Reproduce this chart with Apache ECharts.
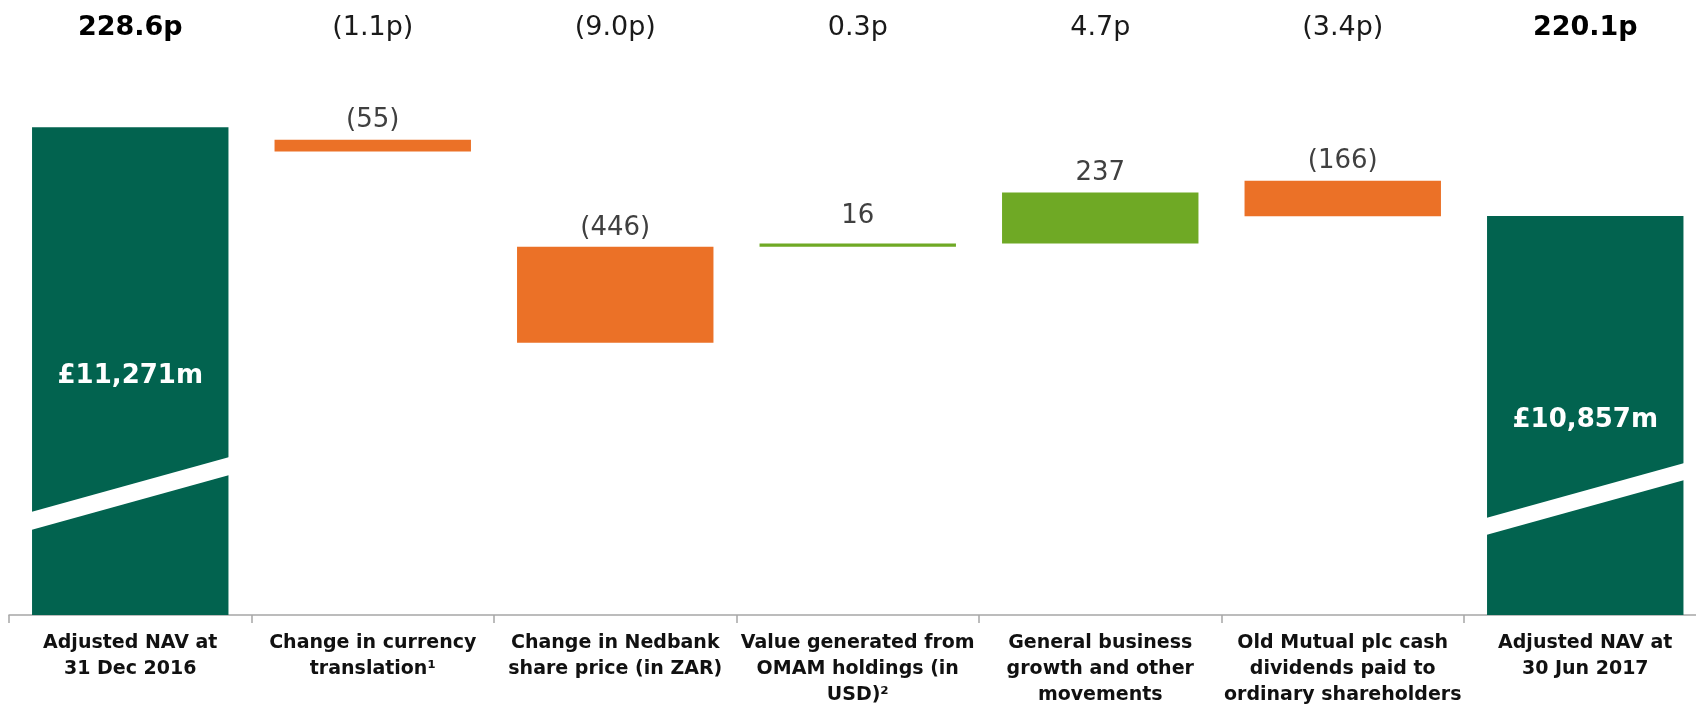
<!DOCTYPE html>
<html><head><meta charset="utf-8">
<script src="https://cdn.jsdelivr.net/npm/echarts@6/dist/echarts.min.js"></script>
<style>html,body{margin:0;padding:0;background:#fff}#c{width:1696px;height:707px}</style>
</head><body><div id="c"></div>
<script>
// ---- data ----
const categories = [
  "Adjusted NAV at\n31 Dec 2016",
  "Change in currency\ntranslation\u00B9",
  "Change in Nedbank\nshare price (in ZAR)",
  "Value generated from\nOMAM holdings (in\nUSD)\u00B2",
  "General business\ngrowth and other\nmovements",
  "Old Mutual plc cash\ndividends paid to\nordinary shareholders",
  "Adjusted NAV at\n30 Jun 2017"
];
const pence = ["228.6p", "(1.1p)", "(9.0p)", "0.3p", "4.7p", "(3.4p)", "220.1p"];
const totals = [11271, null, null, null, null, null, 10857];
const deltas = [null, -55, -446, 16, 237, -166, null];
// lower end of each floating bar as drawn in the picture (£m)
const floatBase = [null, 11158, 10268, 10714, 10730, 10856, null];
const axisMin = 9000, axisMax = 11500;

// ---- styles ----
const DARK = '#02634F', ORANGE = '#EB7127', GREEN = '#6FA925';
const FONT = 'DejaVu Sans';
const BARW = 0.81;
// break stripe geometry (px above the bar foot): [leftLow, rightLow, thickness]
const stripeStyle = {0: [85, 140, 18], 6: [80, 135, 17]};

const chart = echarts.init(document.getElementById('c'), null, {renderer: 'canvas'});

chart.setOption({
  animation: false,
  backgroundColor: '#ffffff',
  grid: {left: 9, width: 1697.5, top: 78, bottom: 92, containLabel: false, outerBoundsMode: 'none'},
  xAxis: [{
    type: 'category', data: categories, position: 'bottom',
    axisLine: {show: true, lineStyle: {color: '#A6A6A6', width: 1.5}},
    axisTick: {show: true, length: 8, lineStyle: {color: '#A6A6A6', width: 1.5}},
    axisLabel: {interval: 0, margin: 15, color: '#111111', fontFamily: FONT, fontWeight: 'bold',
      fontSize: 19, lineHeight: 26, align: 'center', hideOverlap: false}
  }, {
    type: 'category', data: pence, position: 'top',
    axisLine: {show: false}, axisTick: {show: false},
    axisLabel: {interval: 0, margin: 37,
      formatter: (v, i) => totals[i] != null ? '{b|' + v + '}' : '{r|' + v + '}',
      rich: {
        b: {fontFamily: FONT, fontWeight: 'bold', fontSize: 27, color: '#000000'},
        r: {fontFamily: FONT, fontWeight: 'normal', fontSize: 27, color: '#1a1a1a'}
      }}
  }],
  yAxis: {type: 'value', min: axisMin, max: axisMax, show: false, splitLine: {show: false}},
  series: [{
    name: 'base', type: 'bar', stack: 'w', barWidth: (BARW * 100) + '%', silent: true,
    itemStyle: {color: 'rgba(0,0,0,0)'},
    data: floatBase.map(v => v == null ? '-' : v)
  }, {
    name: 'change', type: 'bar', stack: 'w', barWidth: (BARW * 100) + '%',
    data: deltas.map(v => v == null ? '-' : {
      value: Math.abs(v),
      itemStyle: {color: v < 0 ? ORANGE : GREEN},
      label: {distance: Math.abs(v) < 30 ? 14 : 6}
    }),
    label: {show: true, position: 'top', distance: 6, fontFamily: FONT, fontSize: 26, color: '#404040',
      formatter: p => { const d = deltas[p.dataIndex]; return d < 0 ? '(' + Math.abs(d) + ')' : String(d); }}
  }, {
    name: 'total', type: 'bar', barGap: '-100%', barWidth: (BARW * 100) + '%', clip: true,
    itemStyle: {color: DARK},
    data: totals.map(v => v == null ? '-' : v),
    label: {show: true, position: 'inside', offset: [0, 5], fontFamily: FONT, fontWeight: 'bold', fontSize: 26, color: '#ffffff',
      formatter: p => '\u00A3' + p.value.toLocaleString('en-GB') + 'm'}
  }, {
    name: 'break', type: 'custom', silent: true, z: 5, clip: false,
    data: totals.map((v, i) => v == null ? null : [i, v]).filter(Boolean),
    encode: {x: 0, y: 1},
    renderItem: (params, api) => {
      const idx = api.value(0);
      const s = stripeStyle[idx] || [85, 140, 18];
      const b = api.coord([idx, axisMin]);
      const w = api.size([1, 0])[0] * BARW;
      const xl = b[0] - w / 2 - 1, xr = b[0] + w / 2 + 1, yb = b[1];
      return {type: 'polygon', shape: {points: [[xl, yb - s[0]], [xr, yb - s[1]], [xr, yb - s[1] - s[2]], [xl, yb - s[0] - s[2]]]},
        style: {fill: '#ffffff'}};
    }
  }]
});
</script></body></html>
